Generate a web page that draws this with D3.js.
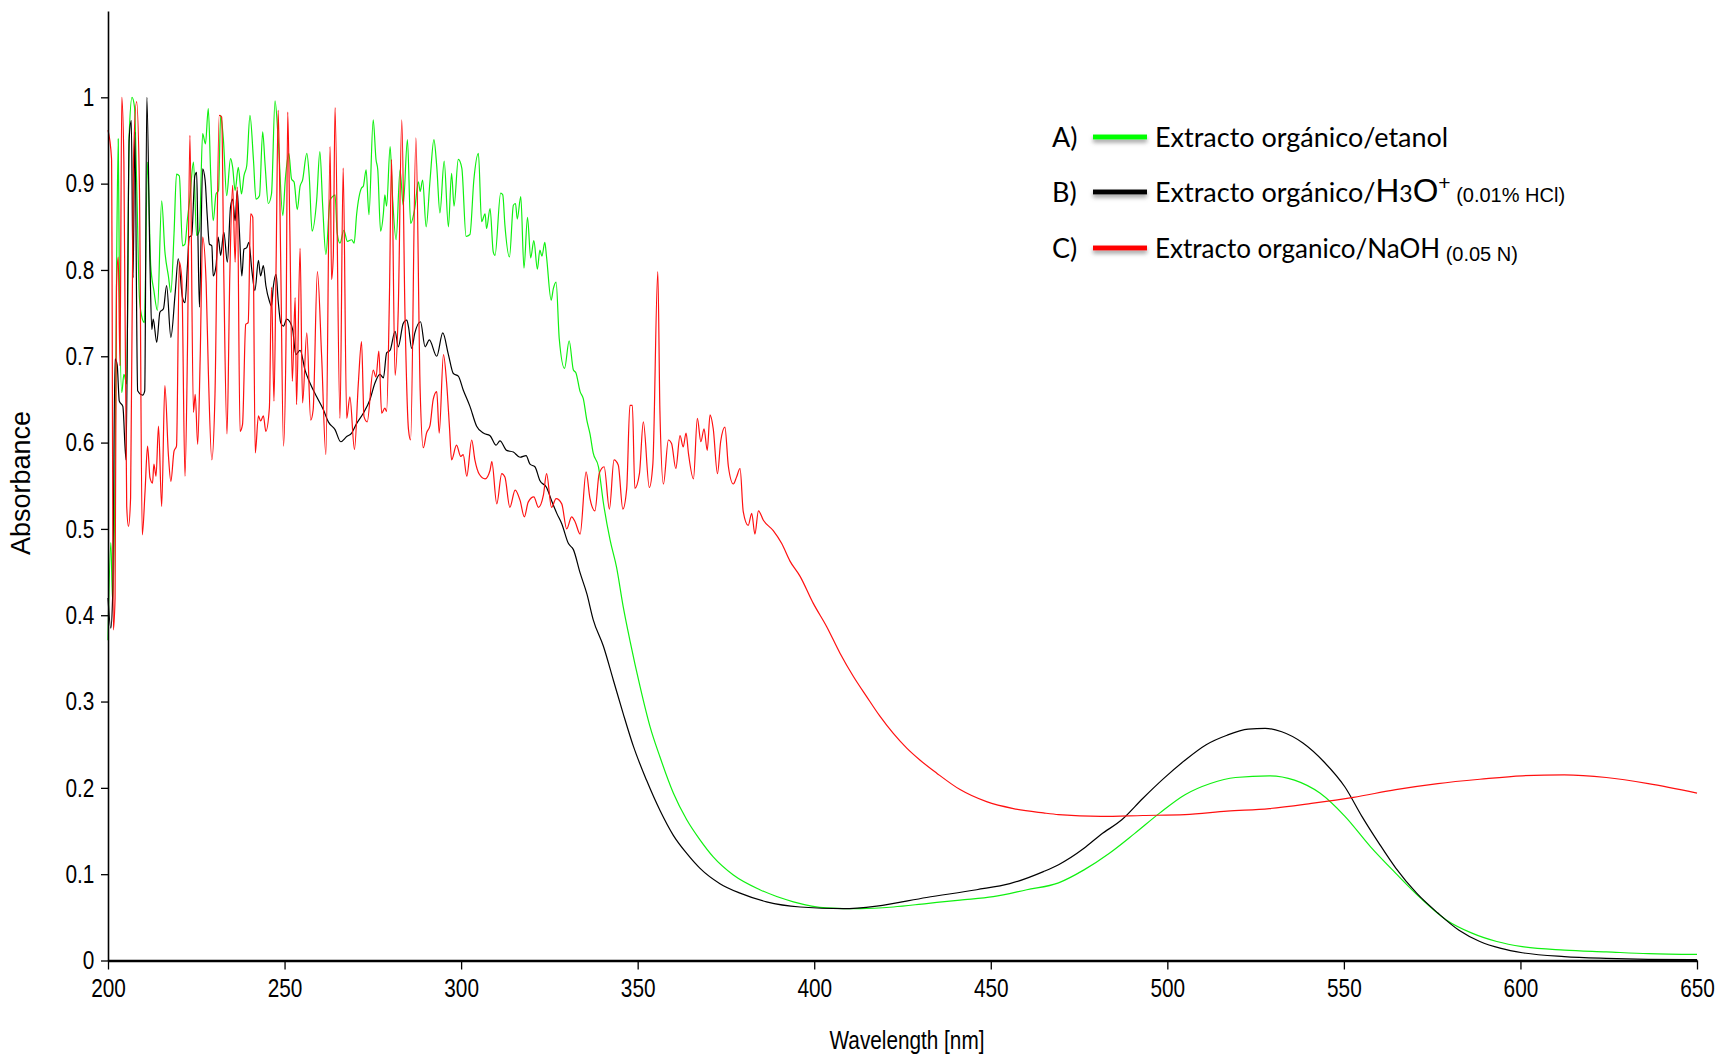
<!DOCTYPE html>
<html>
<head>
<meta charset="utf-8">
<script src="https://cdn.jsdelivr.net/npm/d3@7"></script>
<style>
  body { margin: 0; background: #fff; }
  svg { display: block; }
  .tick text { font-family: "Liberation Sans", Arial, sans-serif; font-size: 26px; fill: #000; }
</style>
</head>
<body>
<script>
var width = 1732,
    height = 1062;

// A) extracto organico / etanol
var greenNm = [200.0,200.8,201.3,202.0,202.4,202.9,203.2,203.9,204.5,205.3,206.0,206.8,207.5,208.1,208.9,209.5,210.3,211.2,212.1,213.0,214.0,215.2,216.1,217.1,217.8,218.7,219.4,220.2,221.1,221.8,222.5,223.2,224.2,225.1,225.9,226.8,227.6,228.4,229.1,229.8,230.6,231.3,231.9,232.7,233.6,234.7,235.3,236.0,236.9,237.8,238.5,239.3,240.2,241.2,241.9,242.9,243.8,244.5,245.4,246.3,247.3,248.2,249.5,250.2,251.2,252.0,252.7,253.6,254.4,255.1,256.3,257.0,257.8,259.1,260.0,260.8,261.7,262.9,263.6,264.3,264.9,265.7,266.8,267.8,269.0,269.7,270.4,271.8,272.3,273.1,273.9,275.1,275.9,276.4,277.2,278.0,278.4,278.9,279.9,280.6,281.6,282.7,283.6,284.8,285.7,286.9,287.9,288.4,289.1,290.1,291.2,292.3,293.1,294.0,295.2,296.4,297.3,298.0,299.2,300.2,301.4,302.5,303.6,304.9,305.8,306.8,307.2,308.2,309.1,309.6,311.2,311.8,312.4,313.7,314.8,315.4,315.9,316.9,317.8,318.8,319.7,320.6,321.6,322.3,322.9,323.7,324.2,325.5,326.1,326.9,327.8,329.3,330.6,331.8,332.5,333.7,334.6,335.6,336.5,337.4,338.9,340.3,342.2,344.0,345.9,347.8,350.7,353.5,356.3,360.1,363.9,367.6,371.4,377.1,384.6,394.1,403.5,413.0,422.4,431.8,441.3,450.7,460.2,469.2,476.4,483.5,490.7,497.9,505.0,512.2,519.3,528.9,536.0,543.2,550.3,557.5,564.7,571.8,579.0,586.1,593.3,600.5,612.4,624.3,636.2,650.0];
var greenAbs = [0.371,0.484,0.416,0.565,0.782,0.952,0.797,0.658,0.679,0.668,0.956,1.0,0.989,0.904,0.768,0.747,0.739,0.925,0.805,0.776,0.753,0.880,0.822,0.793,0.774,0.842,0.911,0.909,0.828,0.830,0.859,0.884,0.925,0.840,0.846,0.958,0.946,0.987,0.909,0.857,0.888,0.892,0.979,0.950,0.886,0.929,0.919,0.892,0.919,0.888,0.909,0.921,0.979,0.927,0.882,0.886,0.960,0.921,0.877,0.888,0.996,0.952,0.863,0.904,0.935,0.905,0.902,0.870,0.897,0.904,0.935,0.908,0.845,0.881,0.937,0.874,0.818,0.881,0.885,0.887,0.843,0.831,0.846,0.833,0.835,0.831,0.864,0.895,0.897,0.916,0.864,0.974,0.928,0.916,0.845,0.866,0.887,0.874,0.943,0.883,0.835,0.916,0.875,0.951,0.854,0.872,0.902,0.891,0.904,0.850,0.904,0.951,0.920,0.866,0.926,0.850,0.912,0.874,0.928,0.918,0.839,0.841,0.904,0.935,0.856,0.865,0.848,0.871,0.821,0.817,0.889,0.887,0.852,0.815,0.875,0.877,0.859,0.885,0.802,0.861,0.814,0.834,0.801,0.823,0.816,0.832,0.815,0.765,0.778,0.786,0.720,0.686,0.718,0.684,0.681,0.659,0.651,0.626,0.610,0.588,0.572,0.530,0.487,0.456,0.410,0.371,0.317,0.271,0.236,0.194,0.163,0.140,0.120,0.099,0.082,0.068,0.061,0.060,0.062,0.066,0.070,0.074,0.082,0.090,0.105,0.124,0.147,0.171,0.192,0.205,0.212,0.214,0.209,0.194,0.167,0.132,0.101,0.072,0.047,0.032,0.022,0.016,0.012,0.010,0.008,0.007];

// B) extracto organico / H3O+
var blackNm = [200.0,200.8,201.3,202.0,202.6,203.2,204.2,205.1,206.0,206.6,207.1,207.6,208.4,209.8,210.4,211.0,211.9,212.4,212.8,213.8,214.7,215.7,216.6,217.8,219.0,219.9,221.1,221.8,222.5,223.0,223.7,224.6,225.1,225.4,225.9,226.8,227.5,228.1,228.7,229.4,229.8,230.6,231.2,231.9,232.8,233.8,234.7,235.3,236.0,236.6,237.2,237.9,238.5,239.3,239.9,240.7,241.6,242.6,243.2,244.0,244.7,245.7,246.3,246.8,247.6,248.2,248.9,249.7,250.6,251.5,252.3,253.2,254.4,255.8,257.2,259.1,261.0,262.4,264.3,265.9,267.6,269.0,270.4,272.3,274.2,275.6,277.0,278.0,278.9,279.9,281.3,282.2,283.6,284.6,285.1,286.0,286.9,288.5,289.8,291.0,293.1,294.8,296.4,297.8,299.2,300.6,302.5,304.4,306.3,308.2,309.9,311.0,312.9,314.8,316.7,318.4,319.5,320.9,322.3,324.2,325.6,327.1,328.5,330.4,331.8,333.7,335.6,337.4,340.3,343.1,345.9,348.8,352.5,356.3,360.1,363.9,367.6,373.3,379.0,386.5,396.0,408.2,417.7,431.8,446.0,455.4,464.9,469.2,476.4,481.2,487.1,493.1,499.0,505.0,511.0,516.9,522.9,527.7,532.4,538.4,544.4,550.3,555.1,559.9,564.7,570.6,576.6,582.6,588.5,594.5,600.5,612.4,624.3,636.2,650.0];
var blackAbs = [0.42,0.385,0.42,0.697,0.690,0.648,0.642,0.580,0.952,0.973,0.791,0.960,0.660,0.655,0.660,1.0,0.805,0.731,0.743,0.716,0.751,0.755,0.782,0.722,0.772,0.813,0.768,0.762,0.805,0.838,0.840,0.909,0.913,0.855,0.757,0.917,0.904,0.863,0.830,0.828,0.793,0.805,0.838,0.817,0.844,0.809,0.873,0.882,0.857,0.892,0.846,0.793,0.824,0.826,0.832,0.801,0.776,0.811,0.793,0.805,0.782,0.764,0.758,0.780,0.795,0.764,0.739,0.735,0.743,0.740,0.731,0.702,0.707,0.684,0.669,0.653,0.638,0.624,0.615,0.601,0.607,0.611,0.622,0.634,0.650,0.669,0.679,0.675,0.704,0.707,0.729,0.711,0.738,0.742,0.734,0.709,0.727,0.740,0.711,0.719,0.700,0.727,0.702,0.680,0.677,0.661,0.642,0.619,0.611,0.608,0.597,0.602,0.591,0.589,0.583,0.585,0.575,0.572,0.556,0.548,0.533,0.518,0.506,0.483,0.476,0.449,0.425,0.395,0.364,0.325,0.286,0.248,0.209,0.174,0.145,0.124,0.107,0.089,0.078,0.068,0.062,0.060,0.063,0.073,0.082,0.089,0.103,0.111,0.130,0.146,0.163,0.188,0.211,0.232,0.250,0.261,0.268,0.269,0.265,0.252,0.230,0.201,0.167,0.136,0.107,0.078,0.055,0.035,0.022,0.014,0.009,0.0045,0.0025,0.0014,0.001];

// C) extracto organico / NaOH
var redNm = [200.0,201.0,201.5,202.0,202.4,202.9,203.4,203.9,204.5,205.3,205.8,206.4,207.2,208.1,208.9,209.7,210.5,211.2,211.9,212.6,213.0,213.6,214.3,215.2,216.1,217.1,217.8,218.7,219.4,220.2,220.9,221.8,222.5,223.2,224.2,224.7,225.4,226.1,226.8,227.8,228.4,229.4,230.3,231.5,232.2,232.8,233.7,234.5,235.3,236.0,236.6,237.4,238.1,239.0,239.7,240.4,241.0,241.7,242.6,243.2,244.0,244.7,245.7,246.3,247.0,247.6,248.2,248.9,249.7,250.4,250.9,251.5,252.2,253.0,253.4,254.4,255.1,256.3,257.4,258.1,259.3,260.5,261.7,262.9,263.3,263.8,264.3,265.7,266.6,267.6,268.5,269.8,270.9,271.8,272.5,273.4,275.1,275.9,276.7,277.5,278.4,278.9,279.7,280.3,281.3,282.2,283.2,284.1,285.1,285.7,287.2,288.4,289.3,290.2,291.2,292.1,293.1,293.8,295.0,295.9,296.7,297.3,298.7,299.9,300.6,301.6,303.0,303.9,305.2,306.8,308.2,308.7,310.1,311.5,312.4,313.8,315.3,316.7,317.9,319.0,320.6,321.9,323.3,324.2,325.6,326.9,328.5,329.9,331.3,332.3,333.7,335.4,336.5,337.9,339.1,340.5,342.0,343.3,344.5,345.8,346.9,347.8,348.5,349.2,350.5,351.6,353.3,354.3,355.7,356.3,357.3,358.7,359.6,360.8,362.0,362.9,363.7,364.4,365.8,366.9,367.9,368.8,369.7,370.5,371.4,372.6,373.5,374.7,375.7,377.1,378.0,379.0,379.9,381.3,382.3,383.2,384.2,385.6,388.4,390.8,393.1,396.0,399.7,403.5,407.3,411.1,414.8,418.6,422.4,426.2,430.0,434.7,441.3,448.8,456.4,464.9,469.2,481.2,493.1,505.0,516.9,528.9,540.8,552.7,564.7,576.6,588.5,600.5,612.4,624.3,636.2,650.0];
var redAbs = [0.962,0.929,0.383,0.420,0.780,0.815,0.689,1.0,0.925,0.526,0.503,0.536,0.925,0.995,0.896,0.493,0.544,0.596,0.559,0.553,0.575,0.561,0.619,0.526,0.666,0.586,0.555,0.590,0.596,0.809,0.789,0.561,0.706,0.956,0.635,0.656,0.598,0.697,0.838,0.784,0.685,0.580,0.656,0.979,0.977,0.793,0.610,0.795,0.898,0.809,0.896,0.613,0.621,0.737,0.739,0.865,0.861,0.588,0.631,0.625,0.631,0.613,0.640,0.780,0.648,0.805,0.985,0.813,0.596,0.714,0.983,0.846,0.671,0.768,0.644,0.825,0.646,0.727,0.626,0.638,0.798,0.700,0.586,0.943,0.789,0.816,0.988,0.628,0.918,0.628,0.653,0.592,0.669,0.717,0.630,0.624,0.684,0.676,0.706,0.634,0.640,0.636,0.769,0.928,0.678,0.754,0.974,0.750,0.615,0.603,0.953,0.661,0.594,0.611,0.620,0.650,0.659,0.611,0.702,0.669,0.618,0.580,0.597,0.584,0.586,0.561,0.603,0.580,0.563,0.558,0.568,0.578,0.529,0.564,0.560,0.525,0.545,0.533,0.514,0.531,0.537,0.525,0.539,0.564,0.525,0.535,0.529,0.500,0.514,0.508,0.494,0.566,0.535,0.521,0.564,0.572,0.523,0.580,0.574,0.523,0.547,0.643,0.643,0.547,0.564,0.624,0.548,0.575,0.798,0.637,0.552,0.603,0.599,0.570,0.608,0.595,0.611,0.587,0.558,0.628,0.601,0.616,0.591,0.632,0.616,0.564,0.601,0.618,0.572,0.552,0.560,0.570,0.520,0.504,0.518,0.494,0.521,0.510,0.498,0.483,0.463,0.445,0.414,0.387,0.356,0.329,0.306,0.283,0.263,0.246,0.232,0.217,0.198,0.184,0.176,0.171,0.169,0.167,0.168,0.169,0.173,0.176,0.182,0.189,0.198,0.205,0.210,0.214,0.215,0.212,0.205,0.194];

var xTicks = [200, 250, 300, 350, 400, 450, 500, 550, 600, 650];
var yTicks = [0, 0.1, 0.2, 0.3, 0.4, 0.5, 0.6, 0.7, 0.8, 0.9, 1];

var svg = d3.select("body").append("svg")
    .attr("width", width)
    .attr("height", height)

var x = d3.scaleLinear().domain([200, 650]).range([108, 1697]);
var y = d3.scaleLinear().domain([0, 1.1]).range([960.5, 11]);

/* drop shadow for the legend swatches (region in the swatch's own coords) */
var f = svg.append("defs").append("filter")
    .attr("id", "shadow")
    .attr("filterUnits", "userSpaceOnUse")
    .attr("x", 1080).attr("y", -20)
    .attr("width", 90).attr("height", 40)
f.append("feDropShadow")
    .attr("dx", 0).attr("dy", 3)
    .attr("stdDeviation", 2)
    .attr("flood-color", "#777")
    .attr("flood-opacity", 0.7)

/* the three spectra */
var series = [
    { nm: greenNm, abs: greenAbs, color: "#10f010" },
    { nm: blackNm, abs: blackAbs, color: "#000000" },
    { nm: redNm, abs: redAbs, color: "#ff1010" }
]

var line = d3.line()
    .x(function (d) { return x(d[0]) })
    .y(function (d) { return y(d[1]) })
    .curve(d3.curveMonotoneX)

svg.selectAll("path.spec")
    .data(series)
    .enter().append("path")
    .attr("class", "spec")
    .attr("fill", "none")
    .attr("stroke", function (d) { return d.color })
    .attr("stroke-width", 1.2)
    .attr("stroke-linejoin", "round")
    .attr("d", function (d) {
        return line(d.nm.map(function (v, i) { return [v, d.abs[i]] }))
    })

/* axes (labels squeezed to look like a narrow font) */
var xAxis = svg.append("g")
    .attr("transform", "translate(0,960.5)")
    .call(d3.axisBottom(x).tickValues(xTicks).tickSize(9).tickSizeOuter(0).tickPadding(9).tickFormat(d3.format("d")))
xAxis.select(".domain").attr("stroke-width", 2.4)
xAxis.selectAll(".tick line").attr("stroke-width", 1.3)
xAxis.selectAll(".tick text").attr("transform", "scale(0.8,1)")

var yAxis = svg.append("g")
    .attr("transform", "translate(108,0)")
    .call(d3.axisLeft(y).tickValues(yTicks).tickSize(7).tickSizeOuter(0).tickPadding(10).tickFormat(d3.format(".1~f")))
yAxis.select(".domain").attr("stroke-width", 1.6)
yAxis.selectAll(".tick line").attr("stroke-width", 1.3)
yAxis.selectAll(".tick text").attr("transform", "scale(0.8,1)")

svg.append("text")
    .attr("transform", "translate(907,1049) scale(0.83,1)")
    .attr("text-anchor", "middle")
    .style("font-family", "'Liberation Sans', Arial, sans-serif")
    .style("font-size", "25px")
    .text("Wavelength [nm]")

svg.append("text")
    .attr("transform", "translate(30,483) rotate(-90)")
    .attr("text-anchor", "middle")
    .style("font-family", "'Liberation Sans', Arial, sans-serif")
    .style("font-size", "27px")
    .text("Absorbance")

/* legend */
var legend = [
    { key: "A)", color: "#00ff00", y: 137 },
    { key: "B)", color: "#000000", y: 192 },
    { key: "C)", color: "#ff0000", y: 248 }
]

var lg = svg.selectAll("g.leg")
    .data(legend)
    .enter().append("g")
    .attr("class", "leg")
    .attr("transform", function (d) { return "translate(0," + d.y + ")" })

lg.append("rect")
    .attr("x", 1093).attr("y", -2.5)
    .attr("width", 54).attr("height", 5)
    .attr("fill", function (d) { return d.color })
    .attr("filter", "url(#shadow)")

lg.append("text")
    .attr("x", 1052)
    .attr("y", 10)
    .style("font-family", "Lato, 'Open Sans', sans-serif")
    .style("font-size", "27px")
    .text(function (d) { return d.key })

var lf = "Lato, 'Open Sans', sans-serif"
var af = "'Liberation Sans', Arial, sans-serif"

var tA = svg.append("text").attr("x", 1155).attr("y", 147)
    .style("font-family", lf).style("font-size", "27px")
tA.text("Extracto orgánico/etanol")

var tB = svg.append("text").attr("x", 1155).attr("y", 202)
    .style("font-family", lf).style("font-size", "27px")
tB.append("tspan").text("Extracto orgánico/")
tB.append("tspan").style("font-family", af).style("font-size", "33px").text("H")
tB.append("tspan").style("font-size", "23px").text("3")
tB.append("tspan").style("font-family", af).style("font-size", "33px").text("O")
tB.append("tspan").style("font-family", af).style("font-size", "21px").attr("dy", -12).text("+")
tB.append("tspan").style("font-family", af).style("font-size", "20px").attr("dy", 12).text(" (0.01% HCl)")

var tC = svg.append("text").attr("x", 1155).attr("y", 258)
    .style("font-family", lf).style("font-size", "26px")
tC.append("tspan").text("Extracto organico/NaOH")
tC.append("tspan").style("font-family", af).style("font-size", "20px").attr("dy", 3).text(" (0.05 N)")
</script>
</body>
</html>
